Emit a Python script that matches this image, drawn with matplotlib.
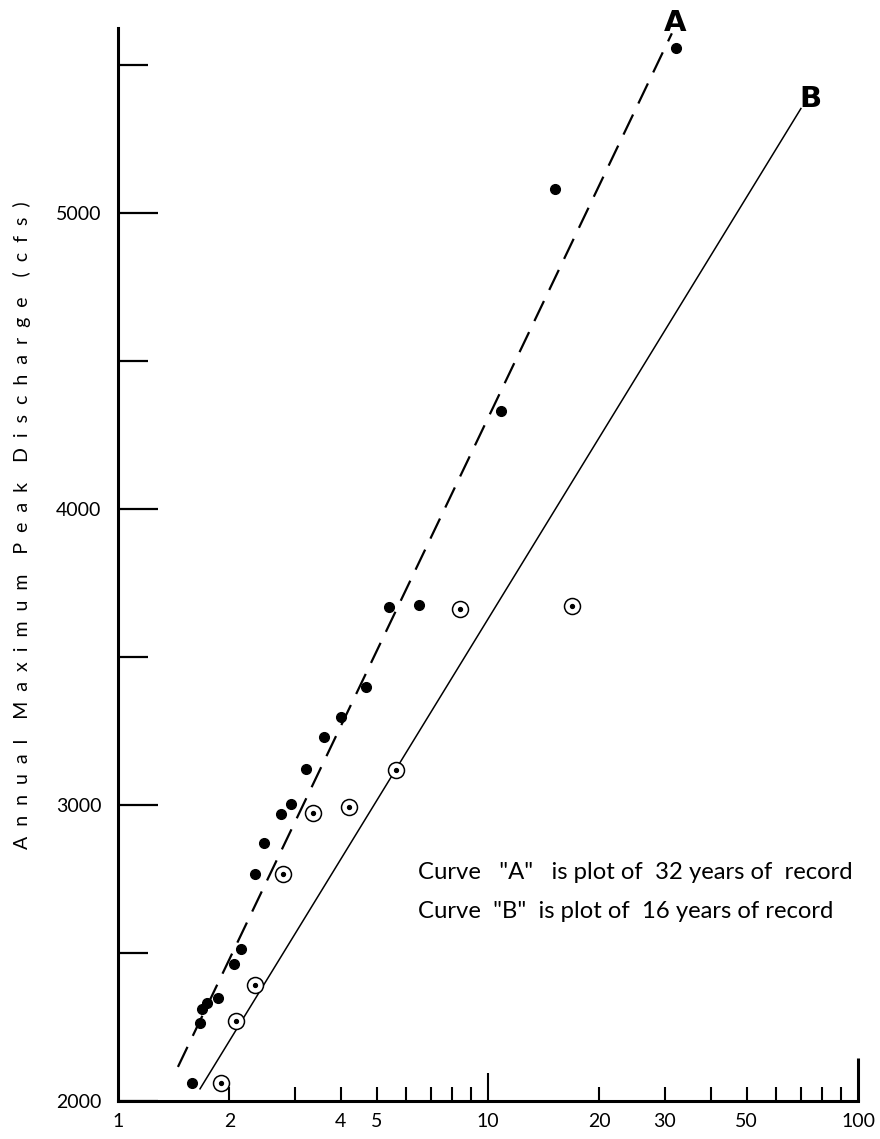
import matplotlib
matplotlib.use('Agg')
import matplotlib.pyplot as plt

plt.rcParams['font.family'] = ['Lato', 'DejaVu Sans']

# Curve A: 32 years of record (filled dots)
a_return = [1.585, 1.666, 1.686, 1.740, 1.862, 2.058, 2.149, 2.345, 2.481, 2.757,
            2.935, 3.222, 3.605, 4.005, 4.678, 5.40, 6.51, 10.84, 15.17, 32.2]
a_peak = [2061, 2264, 2312, 2332, 2349, 2464, 2515, 2766, 2871, 2969,
          3003, 3122, 3231, 3298, 3400, 3668, 3675, 4332, 5081, 5556]

# Curve B: 16 years of record (circled dots)
b_return = [1.898, 2.084, 2.345, 2.792, 3.365, 4.21, 5.64, 8.40, 16.87]
b_peak = [2061, 2271, 2393, 2766, 2973, 2993, 3119, 3661, 3671]

# fitted lines (end points)
a_line_x = [1.452, 31.4]
a_line_y = [2115, 5607]
b_line_x = [1.666, 70.1]
b_line_y = [2041, 5353]

x_ticks = [1, 2, 3, 4, 5, 6, 7, 8, 9, 10, 20, 30, 40, 50, 60, 70, 80, 90, 100]
x_labels = ['1', '2', '', '4', '5', '', '', '', '', '10', '20', '30', '', '50', '', '', '', '', '100']
y_ticks = [2000, 2500, 3000, 3500, 4000, 4500, 5000, 5500]
y_labels = ['2000', '', '3000', '', '4000', '', '5000', '']

fig = plt.figure(figsize=(8.8, 11.39), dpi=100)
ax = fig.add_axes([0.1341, 0.0334, 0.8409, 0.942])

ax.set_xscale('log')
ax.set_xlim(1, 100)
ax.set_ylim(2000, 5625)

# lines
ax.plot(a_line_x, a_line_y, color='black', lw=1.6, dashes=(10, 5.5))
ax.plot(b_line_x, b_line_y, color='black', lw=1.1)

# points
ax.plot(a_return, a_peak, 'o', color='black', ms=7, zorder=3)
ax.plot(b_return, b_peak, 'o', mfc='white', mec='black', mew=1.1, ms=11.5, zorder=3)
ax.plot(b_return, b_peak, 'o', color='black', ms=2.8, zorder=4)

# axes look
for s in ['top', 'right']:
    ax.spines[s].set_visible(False)
ax.spines['left'].set_linewidth(2.2)
ax.spines['bottom'].set_linewidth(2.2)

ax.set_xticks(x_ticks)
ax.set_xticklabels(x_labels)
ax.xaxis.set_minor_locator(matplotlib.ticker.NullLocator())
ax.set_yticks(y_ticks)
ax.set_yticklabels(y_labels)

ax.tick_params(axis='x', direction='in', width=1.5, length=10, pad=9, labelsize=14)
ax.tick_params(axis='y', direction='in', width=1.6, length=29, pad=12, labelsize=14)

for val, t in zip(x_ticks, ax.xaxis.get_major_ticks()):
    if val == 10:
        t.tick1line.set_markersize(20)
    elif val == 100:
        t.tick1line.set_markersize(31)
        t.tick1line.set_markeredgewidth(2.2)
    elif val == 1:
        t.tick1line.set_visible(False)
for val, t in zip(y_ticks, ax.yaxis.get_major_ticks()):
    if val % 1000 != 0:
        t.tick1line.set_markersize(21.5)

ax.text(32.0, 5641, 'A', fontsize=21, fontweight='bold', family='DejaVu Sans',
        ha='center', va='center', clip_on=False)
ax.text(74.5, 5385, 'B', fontsize=21, fontweight='bold', family='DejaVu Sans',
        ha='center', va='center')

ax.text(6.45, 2773, 'Curve   "A"   is plot of  32 years of  record', fontsize=17.2,
        ha='left', va='center')
ax.text(6.45, 2640, 'Curve  "B"  is plot of  16 years of record', fontsize=17.2,
        ha='left', va='center')

ylabel = (' ' * 4).join('  '.join(w) for w in ['Annual', 'Maximum', 'Peak', 'Discharge', '(cfs)'])
fig.text(22 / 880, 1 - 525 / 1139, ylabel, rotation=90, fontsize=14,
         ha='center', va='center')

fig.savefig('out.png', dpi=100)
